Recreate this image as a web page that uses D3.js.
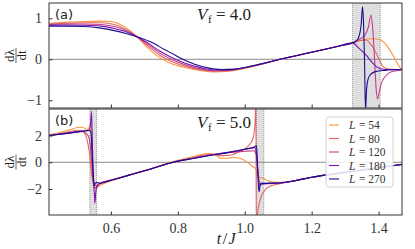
<!DOCTYPE html>
<html>
<head>
<meta charset="utf-8">
<script src="https://cdn.jsdelivr.net/npm/d3@7"></script>
<style>
  body { margin: 0; background: #fff; }
  svg { display: block; }
</style>
</head>
<body>
<script>
// Chart data: dλ/dt vs t/J for several system sizes L
const sizes = [54, 80, 120, 180, 270];
const colors = ['#f89540', '#e16462', '#c43d8c', '#7a12ad', '#1b0c8f'];
const xTicks = [0.6, 0.8, 1.0, 1.2, 1.4];
const aTicks = [-1, 0, 1];
const bTicks = [-2, 0, 2];
const aShade = [[1.322, 1.405]];
const bShade = [[0.537, 0.557], [1.035, 1.057]];

// panel (a), V_f = 4.0
const a54 = [[0.415,0.88],[0.46,0.9],[0.52,0.92],[0.57,0.93],[0.6,0.92],[0.625,0.86],[0.65,0.74],[0.678,0.55],[0.71,0.28],[0.746,0.04],[0.78,-0.1],[0.82,-0.2],[0.87,-0.28],[0.91,-0.31],[0.95,-0.29],[0.99,-0.24],[1.05,-0.12],[1.105,0.0],[1.2,0.17],[1.28,0.32],[1.322,0.4],[1.35,0.47],[1.38,0.5],[1.4,0.49],[1.42,0.38],[1.433,0.23],[1.45,0.0],[1.463,-0.19],[1.47,-0.24]];
const a80 = [[0.415,0.86],[0.46,0.88],[0.52,0.89],[0.57,0.89],[0.61,0.85],[0.645,0.73],[0.678,0.55],[0.71,0.33],[0.746,0.1],[0.78,-0.05],[0.82,-0.17],[0.87,-0.26],[0.91,-0.29],[0.95,-0.28],[0.99,-0.23],[1.05,-0.12],[1.105,0.0],[1.2,0.17],[1.28,0.32],[1.322,0.4],[1.345,0.46],[1.363,0.47],[1.378,0.35],[1.393,0.15],[1.403,-0.02],[1.413,-0.18],[1.43,-0.24],[1.47,-0.25]];
const a120 = [[0.415,0.845],[0.46,0.86],[0.52,0.86],[0.57,0.85],[0.61,0.8],[0.645,0.7],[0.678,0.55],[0.71,0.37],[0.746,0.15],[0.78,0.0],[0.82,-0.13],[0.87,-0.24],[0.91,-0.28],[0.95,-0.27],[0.99,-0.22],[1.05,-0.12],[1.105,0.0],[1.2,0.17],[1.28,0.32],[1.322,0.4],[1.345,0.5],[1.36,0.6],[1.37,0.8],[1.377,1.08],[1.382,0.8],[1.388,0.0],[1.393,-0.75],[1.397,-0.97],[1.402,-0.8],[1.41,-0.55],[1.42,-0.42],[1.44,-0.3],[1.47,-0.26]];
const a180 = [[0.415,0.83],[0.46,0.835],[0.52,0.83],[0.57,0.81],[0.61,0.75],[0.645,0.67],[0.678,0.55],[0.71,0.4],[0.746,0.2],[0.78,0.05],[0.82,-0.09],[0.87,-0.21],[0.91,-0.26],[0.95,-0.26],[0.99,-0.22],[1.05,-0.11],[1.105,0.0],[1.2,0.17],[1.28,0.32],[1.322,0.4],[1.34,0.28],[1.363,0.1],[1.38,-0.07],[1.397,-0.2],[1.42,-0.25],[1.47,-0.25]];
const a270 = [[0.415,0.81],[0.47,0.81],[0.52,0.8],[0.57,0.76],[0.61,0.7],[0.645,0.63],[0.678,0.55],[0.72,0.42],[0.76,0.24],[0.79,0.11],[0.815,0.0],[0.85,-0.12],[0.89,-0.21],[0.93,-0.25],[0.97,-0.24],[1.0,-0.2],[1.05,-0.11],[1.105,0.0],[1.2,0.17],[1.28,0.32],[1.322,0.4],[1.335,0.46],[1.343,0.6],[1.348,0.85],[1.352,1.28],[1.355,0.9],[1.358,0.0],[1.361,-1.25],[1.364,-0.75],[1.368,-0.5],[1.375,-0.38],[1.39,-0.3],[1.42,-0.27],[1.47,-0.25]];

// panel (b), V_f = 5.0
const b54 = [[0.415,2.05],[0.45,2.25],[0.48,2.45],[0.5,2.6],[0.515,2.62],[0.525,2.5],[0.532,2.45],[0.536,2.7],[0.539,2.9],[0.542,2.0],[0.545,-0.5],[0.548,-1.7],[0.552,-1.95],[0.558,-1.9],[0.57,-1.7],[0.6,-1.4],[0.65,-1.0],[0.72,-0.48],[0.786,0.05],[0.85,0.45],[0.895,0.68],[0.915,0.5],[0.93,0.3],[0.95,0.3],[0.965,0.38],[0.985,0.3],[1.005,0.05],[1.025,-0.35],[1.033,-0.5],[1.037,-0.9],[1.042,-1.1],[1.055,-1.2],[1.07,-1.4],[1.1,-1.5],[1.15,-1.38],[1.2,-1.12],[1.3,-0.76],[1.4,-0.41],[1.47,-0.16]];
const b80 = [[0.415,2.0],[0.46,2.2],[0.5,2.4],[0.515,2.35],[0.525,2.0],[0.532,1.3],[0.537,0.5],[0.542,-0.8],[0.548,-1.6],[0.555,-1.75],[0.567,-1.6],[0.6,-1.33],[0.65,-0.98],[0.72,-0.48],[0.786,0.02],[0.85,0.38],[0.9,0.6],[0.93,0.5],[0.96,0.55],[0.985,0.8],[1.01,1.2],[1.025,1.8],[1.031,3.0],[1.0335,5.0],[1.0345,-5.0],[1.038,-3.9],[1.045,-2.9],[1.06,-2.1],[1.075,-1.8],[1.105,-1.6],[1.15,-1.38],[1.2,-1.12],[1.3,-0.76],[1.4,-0.41],[1.47,-0.16]];
const b120 = [[0.415,2.0],[0.47,2.2],[0.51,2.3],[0.525,2.2],[0.535,1.8],[0.54,0.8],[0.545,-0.8],[0.55,-1.9],[0.556,-1.9],[0.567,-1.6],[0.6,-1.35],[0.65,-0.99],[0.72,-0.49],[0.786,0.0],[0.85,0.33],[0.9,0.56],[0.95,0.72],[1.0,0.82],[1.025,0.86],[1.033,0.7],[1.038,-0.3],[1.043,-1.4],[1.05,-1.65],[1.07,-1.6],[1.105,-1.55],[1.15,-1.38],[1.2,-1.12],[1.3,-0.76],[1.4,-0.41],[1.47,-0.16]];
const b180 = [[0.415,2.0],[0.48,2.2],[0.52,2.32],[0.535,2.4],[0.539,2.8],[0.542,3.8],[0.545,1.0],[0.548,-1.5],[0.551,-2.5],[0.552,-3.05],[0.555,-2.2],[0.56,-1.7],[0.567,-1.57],[0.6,-1.35],[0.65,-1.0],[0.72,-0.5],[0.786,0.0],[0.85,0.32],[0.9,0.55],[0.95,0.75],[1.0,0.98],[1.02,1.05],[1.03,1.1],[1.035,0.6],[1.04,-1.0],[1.045,-1.75],[1.05,-1.6],[1.105,-1.55],[1.15,-1.38],[1.2,-1.12],[1.3,-0.76],[1.4,-0.41],[1.47,-0.16]];
const b270 = [[0.415,2.0],[0.48,2.2],[0.535,2.38],[0.54,2.3],[0.544,0.5],[0.548,-1.2],[0.551,-1.75],[0.553,-1.55],[0.56,-1.52],[0.567,-1.57],[0.6,-1.35],[0.65,-1.0],[0.72,-0.5],[0.786,0.0],[0.85,0.3],[0.9,0.52],[0.95,0.72],[1.0,0.98],[1.03,1.17],[1.035,1.25],[1.038,0.0],[1.041,-1.8],[1.043,-2.2],[1.046,-1.7],[1.05,-1.58],[1.105,-1.55],[1.15,-1.38],[1.2,-1.12],[1.3,-0.76],[1.4,-0.41],[1.47,-0.16]];

const seriesA = [a54, a80, a120, a180, a270];
const seriesB = [b54, b80, b120, b180, b270];

const width = 415, height = 249;
const left = 49, right = 402;
const serif = '"Liberation Serif", "DejaVu Serif", serif';

const svg = d3.select('body').append('svg')
  .attr('width', width)
  .attr('height', height);

const x = d3.scaleLinear().domain([0.415, 1.47]).range([left, right]);

const panels = [
  { id: 'a', top: 3, bottom: 108, domain: [-1.188, 1.373], ticks: aTicks, data: seriesA, shade: aShade,
    tag: '(a)', tagY: 19, vf: '4.0', vfY: 20 },
  { id: 'b', top: 109, bottom: 215, domain: [-3.95, 3.99], ticks: bTicks, data: seriesB, shade: bShade,
    tag: '(b)', tagY: 125, vf: '5.0', vfY: 128 }
];

panels.forEach(p => {
  const y = d3.scaleLinear().domain(p.domain).range([p.bottom, p.top]);
  const g = svg.append('g');

  g.append('clipPath').attr('id', 'clip-' + p.id)
    .append('rect')
    .attr('x', left).attr('y', p.top)
    .attr('width', right - left).attr('height', p.bottom - p.top);

  // shaded windows
  p.shade.forEach(([s0, s1]) => {
    g.append('rect')
      .attr('x', x(s0)).attr('y', p.top)
      .attr('width', x(s1) - x(s0)).attr('height', p.bottom - p.top)
      .attr('fill', '#dedede');
    [s0, s1].forEach(s => {
      g.append('line')
        .attr('x1', x(s)).attr('x2', x(s))
        .attr('y1', p.top).attr('y2', p.bottom)
        .attr('stroke', '#888')
        .attr('stroke-width', 0.8)
        .attr('stroke-dasharray', '1,1');
    });
  });

  // zero line
  g.append('line')
    .attr('x1', left).attr('x2', right)
    .attr('y1', y(0)).attr('y2', y(0))
    .attr('stroke', '#8a8a8a')
    .attr('stroke-width', 1);

  const line = d3.line()
    .x(d => x(d[0]))
    .y(d => y(d[1]))
    .curve(d3.curveMonotoneX);

  g.append('g')
    .attr('clip-path', `url(#clip-${p.id})`)
    .selectAll('path')
    .data(p.data)
    .enter()
    .append('path')
    .attr('d', line)
    .attr('fill', 'none')
    .attr('stroke', (d, i) => colors[i])
    .attr('stroke-width', 1.1);

  // axes with inward ticks
  const yAxis = g.append('g')
    .attr('transform', `translate(${left},0)`)
    .call(d3.axisLeft(y).tickValues(p.ticks).tickSizeInner(-3.5).tickSizeOuter(0)
      .tickPadding(7).tickFormat(d => d < 0 ? '\u2212' + Math.abs(d) : d));
  yAxis.select('.domain').remove();

  const xAxis = g.append('g')
    .attr('transform', `translate(0,${p.bottom})`)
    .call(d3.axisBottom(x).tickValues(xTicks).tickSizeInner(-3.5).tickSizeOuter(0)
      .tickPadding(8).tickFormat(d3.format('.1f')));
  xAxis.select('.domain').remove();
  if (p.id === 'a') xAxis.selectAll('text').remove();

  [yAxis, xAxis].forEach(ax => {
    ax.selectAll('line').attr('stroke', '#333');
    ax.selectAll('text').attr('font-family', serif).attr('font-size', 14).attr('fill', '#333');
  });

  // frame
  g.append('rect')
    .attr('x', left).attr('y', p.top)
    .attr('width', right - left).attr('height', p.bottom - p.top)
    .attr('fill', 'none')
    .attr('stroke', '#333')
    .attr('stroke-width', 1);

  // panel tag
  g.append('text')
    .attr('x', 55).attr('y', p.tagY)
    .attr('font-family', '"DejaVu Sans", sans-serif')
    .attr('font-size', 13)
    .attr('fill', '#222')
    .text(p.tag);

  // V_f label, as separate pieces
  g.append('text')
    .attr('x', 197).attr('y', p.vfY)
    .attr('font-family', serif).attr('font-size', 17).attr('font-style', 'italic')
    .attr('fill', '#222')
    .text('V');
  g.append('text')
    .attr('x', 208).attr('y', p.vfY + 3)
    .attr('font-family', serif).attr('font-size', 11)
    .attr('fill', '#222')
    .text('f');
  g.append('text')
    .attr('x', 216).attr('y', p.vfY)
    .attr('font-family', serif).attr('font-size', 17)
    .attr('fill', '#222')
    .text('= ' + p.vf);

  // y label: dλ/dt as a rotated fraction
  const cy = (p.top + p.bottom) / 2;
  const fr = g.append('g').attr('transform', `translate(16,${cy}) rotate(-90)`);
  fr.append('text').attr('x', 0).attr('y', -2.5)
    .attr('text-anchor', 'middle')
    .attr('font-family', serif).attr('font-size', 13).attr('fill', '#222')
    .text('d\u03bb');
  fr.append('line').attr('x1', -7.5).attr('x2', 7.5).attr('y1', 0).attr('y2', 0)
    .attr('stroke', '#222').attr('stroke-width', 0.7);
  fr.append('text').attr('x', 0).attr('y', 10)
    .attr('text-anchor', 'middle')
    .attr('font-family', serif).attr('font-size', 13).attr('fill', '#222')
    .text('dt');
});

// x label
svg.append('text')
  .attr('x', 219).attr('y', 244)
  .attr('text-anchor', 'middle')
  .attr('font-family', serif).attr('font-size', 16).attr('font-style', 'italic')
  .attr('fill', '#222')
  .text('t');
svg.append('text')
  .attr('x', 225).attr('y', 244)
  .attr('text-anchor', 'middle')
  .attr('font-family', serif).attr('font-size', 16)
  .attr('fill', '#222')
  .text('/');
svg.append('text')
  .attr('x', 232).attr('y', 244)
  .attr('text-anchor', 'middle')
  .attr('font-family', serif).attr('font-size', 16).attr('font-style', 'italic')
  .attr('fill', '#222')
  .text('J');

// legend
const lg = svg.append('g').attr('transform', 'translate(326,117)');
lg.append('rect')
  .attr('width', 67).attr('height', 70)
  .attr('rx', 3)
  .attr('fill', '#fff').attr('fill-opacity', 0.85)
  .attr('stroke', '#d0d0d0');
sizes.forEach((s, i) => {
  const yy = 8 + i * 13.5;
  lg.append('line')
    .attr('x1', 3).attr('x2', 13)
    .attr('y1', yy).attr('y2', yy)
    .attr('stroke', colors[i]).attr('stroke-width', 1.1);
  lg.append('text')
    .attr('x', 23).attr('y', yy + 4)
    .attr('font-family', serif).attr('font-size', 11.5).attr('font-style', 'italic')
    .attr('fill', '#333')
    .text('L');
  lg.append('text')
    .attr('x', 33).attr('y', yy + 4)
    .attr('font-family', serif).attr('font-size', 11.5)
    .attr('fill', '#333')
    .text('= ' + s);
});
</script>
</body>
</html>
